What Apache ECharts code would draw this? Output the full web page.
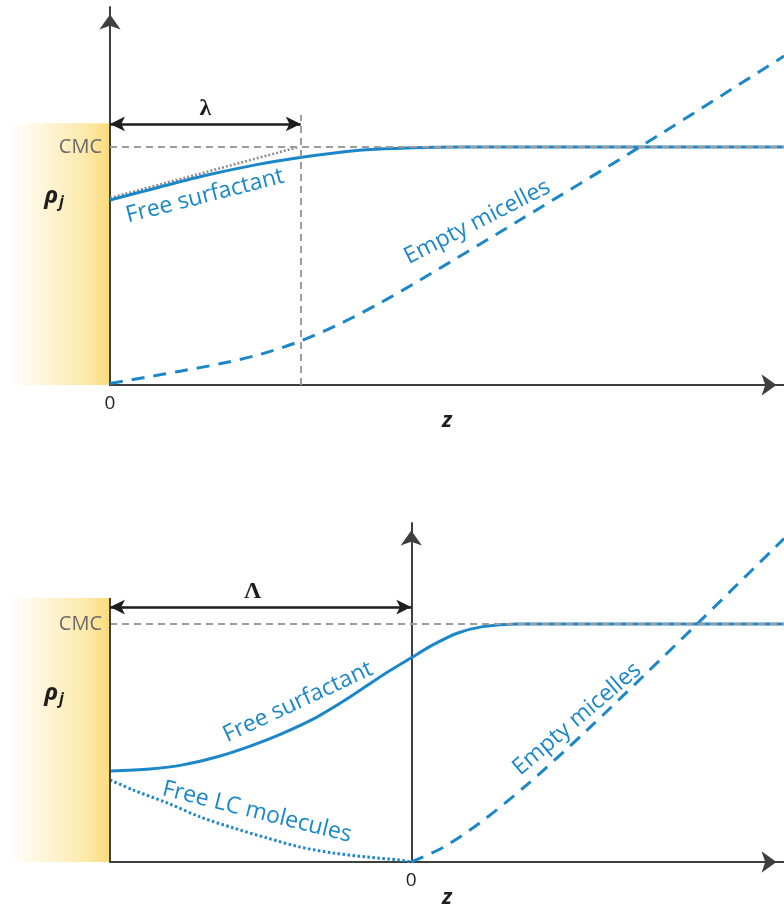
<!DOCTYPE html>
<html>
<head>
<meta charset="utf-8">
<script src="https://cdn.jsdelivr.net/npm/echarts@6/dist/echarts.min.js"></script>
<style>
html, body { margin: 0; padding: 0; background: #fff; }
#main { width: 784px; height: 904px; }
</style>
</head>
<body>
<div id="main"></div>
<script>
// ---- Upper panel: bare wall, decay length λ ----
const cmc = 1.0;
const lambda = 2.83;
const topFreeSurfZ = [0, 0.70, 1.44, 2.18, 2.82, 3.30, 3.80, 4.40, 5.20, 6.0, 7.0, 8.0, 9.0, 10.0];
const topFreeSurf  = [0.777, 0.829, 0.882, 0.926, 0.956, 0.974, 0.988, 0.996, 1.0, 1.0, 1.0, 1.0, 1.0, 1.0];
const topTangentZ  = [0, 2.8];
const topTangent   = [0.786, 1.0];
const topMicellesZ = [0, 0.52, 1.04, 1.63, 2.23, 2.82, 3.41, 4.01, 4.60, 6.08, 7.86, 10.0];
const topMicelles  = [0.006, 0.032, 0.058, 0.089, 0.129, 0.184, 0.257, 0.345, 0.441, 0.693, 1.0, 1.382];

// ---- Lower panel: LC-coated wall, depletion length Λ ----
const bigLambda = 4.47;
const botFreeSurfZ = [-4.47, -3.88, -3.39, -2.89, -2.39, -1.90, -1.40, -0.91, -0.42, 0, 0.32, 0.68, 1.06, 1.57, 2.2, 3.5, 5.53];
const botFreeSurf  = [0.382, 0.391, 0.408, 0.441, 0.487, 0.542, 0.609, 0.693, 0.786, 0.858, 0.912, 0.961, 0.989, 1.0, 1.0, 1.0, 1.0];
const botFreeLCZ   = [-4.47, -4.13, -3.62, -3.13, -2.64, -2.14, -1.65, -1.16, -0.66, -0.17, 0];
const botFreeLC    = [0.345, 0.303, 0.248, 0.189, 0.143, 0.101, 0.063, 0.038, 0.021, 0.008, 0];
const botMicellesZ = [0, 0.47, 1.02, 1.71, 2.60, 3.49, 4.28, 5.53];
const botMicelles  = [0, 0.061, 0.165, 0.323, 0.552, 0.794, 1.011, 1.359];

const xTickLabels = ['0'];

const BLUE = '#1b87c9';
const GREY = '#9c9c9c';
const AXIS = '#3f3f3f';
const INK = '#1e1e1e';
const FONT = '"Open Sans", "Noto Sans", sans-serif';

const pairs = (xs, ys) => xs.map((x, i) => [x, ys[i]]);

const chart = echarts.init(document.getElementById('main'), null, { renderer: 'canvas' });

const axisArrow = { symbol: ['none', 'arrow'], symbolSize: [16, 15], symbolOffset: [0, -7.5] };

function xAxisFor(gi, min, max) {
  return {
    type: 'value', gridIndex: gi, min: min, max: max,
    name: 'z', nameLocation: 'middle', nameGap: 25, nameMoveOverlap: false,
    nameTextStyle: { fontFamily: FONT, fontSize: 22, fontWeight: 'bold', fontStyle: 'italic', color: INK },
    axisLine: Object.assign({ show: true, onZero: false, lineStyle: { color: AXIS, width: 2 } }, axisArrow),
    axisTick: { show: false },
    splitLine: { show: false },
    axisLabel: { show: true, customValues: [0], margin: 9,
      formatter: v => (v === 0 ? xTickLabels[0] : ''),
      fontFamily: FONT, fontSize: 19, color: INK }
  };
}
function yAxisFor(gi, max) {
  return {
    type: 'value', gridIndex: gi, min: 0, max: max,
    axisLine: Object.assign({ show: true, onZero: true, lineStyle: { color: AXIS, width: 2 } }, axisArrow),
    axisTick: { show: false }, axisLabel: { show: false }, splitLine: { show: false }
  };
}

const dashedGrey = { color: GREY, width: 2, type: [7, 5] };
const arrowLine = { color: INK, width: 2.5, type: 'solid' };
const greekLabel = { fontFamily: '"Liberation Serif", serif', fontSize: 24, fontWeight: 'bold', color: INK };

const option = {
  animation: false,
  backgroundColor: '#fff',
  grid: [
    { left: 110, top: 7, width: 674, height: 378, containLabel: false, outerBoundsMode: 'none' },
    { left: 110, top: 523, width: 674, height: 339, containLabel: false, outerBoundsMode: 'none' }
  ],
  xAxis: [xAxisFor(0, 0, 10), xAxisFor(1, -bigLambda, 10 - bigLambda)],
  yAxis: [yAxisFor(0, 378 / 238), yAxisFor(1, 339 / 238)],
  series: [
    // upper panel guides
    {
      type: 'line', xAxisIndex: 0, yAxisIndex: 0, data: [], z: 1, silent: true,
      markLine: {
        silent: true, animation: false, symbol: 'none',
        data: [
          [{ coord: [0, cmc], lineStyle: dashedGrey,
             label: { show: true, position: 'start', formatter: 'CMC', distance: 8,
                      fontFamily: FONT, fontSize: 20, color: '#6a6a6a' } },
           { coord: [10, cmc] }],
          [{ coord: [lambda, 0], lineStyle: dashedGrey, label: { show: false } },
           { coord: [lambda, 1.134] }]
        ]
      }
    },
    {
      type: 'line', xAxisIndex: 0, yAxisIndex: 0, data: [], z: 4, silent: true,
      markLine: {
        silent: true, animation: false, symbol: ['arrow', 'arrow'], symbolSize: [11, 15],
        data: [
          [{ coord: [0, 1.097], lineStyle: arrowLine,
             label: Object.assign({ show: true, position: 'middle', formatter: 'λ', distance: 3 }, greekLabel) },
           { coord: [lambda, 1.097] }]
        ]
      }
    },
    {
      name: 'tangent', type: 'line', xAxisIndex: 0, yAxisIndex: 0, z: 2,
      data: pairs(topTangentZ, topTangent), showSymbol: false, silent: true,
      lineStyle: { color: '#8c8c8c', width: 2.5, type: [2, 2] }
    },
    {
      name: 'Free surfactant', type: 'line', xAxisIndex: 0, yAxisIndex: 0, z: 3,
      data: pairs(topFreeSurfZ, topFreeSurf), showSymbol: false, smooth: 0.3, silent: true,
      lineStyle: { color: BLUE, width: 3 }
    },
    {
      name: 'Empty micelles', type: 'line', xAxisIndex: 0, yAxisIndex: 0, z: 3,
      data: pairs(topMicellesZ, topMicelles), showSymbol: false, smooth: 0.3, silent: true,
      lineStyle: { color: BLUE, width: 3, type: [13, 9] }
    },
    // lower panel guides
    {
      type: 'line', xAxisIndex: 1, yAxisIndex: 1, data: [], z: 1, silent: true,
      markLine: {
        silent: true, animation: false, symbol: 'none',
        data: [
          [{ coord: [-bigLambda, cmc], lineStyle: dashedGrey,
             label: { show: true, position: 'start', formatter: 'CMC', distance: 8,
                      fontFamily: FONT, fontSize: 20, color: '#6a6a6a' } },
           { coord: [10 - bigLambda, cmc] }],
          [{ coord: [-bigLambda, 0], lineStyle: { color: AXIS, width: 2, type: 'solid' }, label: { show: false } },
           { coord: [-bigLambda, 1.109] }]
        ]
      }
    },
    {
      type: 'line', xAxisIndex: 1, yAxisIndex: 1, data: [], z: 4, silent: true,
      markLine: {
        silent: true, animation: false, symbol: ['arrow', 'arrow'], symbolSize: [11, 15],
        data: [
          [{ coord: [-bigLambda, 1.071], lineStyle: arrowLine,
             label: Object.assign({ show: true, position: 'middle', formatter: 'Λ', distance: 3, offset: [-8, 0] }, greekLabel) },
           { coord: [0, 1.071] }]
        ]
      }
    },
    {
      name: 'Free surfactant', type: 'line', xAxisIndex: 1, yAxisIndex: 1, z: 3,
      data: pairs(botFreeSurfZ, botFreeSurf), showSymbol: false, smooth: 0.3, silent: true,
      lineStyle: { color: BLUE, width: 3 }
    },
    {
      name: 'Free LC molecules', type: 'line', xAxisIndex: 1, yAxisIndex: 1, z: 3,
      data: pairs(botFreeLCZ, botFreeLC), showSymbol: false, smooth: 0.3, silent: true,
      lineStyle: { color: BLUE, width: 3, type: [2.5, 2.5] }
    },
    {
      name: 'Empty micelles', type: 'line', xAxisIndex: 1, yAxisIndex: 1, z: 3,
      data: pairs(botMicellesZ, botMicelles), showSymbol: false, smooth: 0.3, silent: true,
      lineStyle: { color: BLUE, width: 3, type: [13, 9] }
    }
  ]
};

chart.setOption(option);

// Annotations placed in data space and converted through each grid's axes.
const px = (gi, z, r) => chart.convertToPixel({ gridIndex: gi }, [z, r]);

function label(gi, z, r, text, deg, extra) {
  const p = px(gi, z, r);
  return {
    type: 'text', x: p[0], y: p[1], rotation: deg * Math.PI / 180, z: 10, silent: true,
    style: Object.assign({
      text: text, fill: BLUE, fontFamily: FONT, fontSize: 23,
      align: 'center', verticalAlign: 'middle', textAlign: 'center', textVerticalAlign: 'middle'
    }, extra || {})
  };
}

function wallBand(gi, zWall, top) {
  const a = px(gi, zWall, top);
  const b = px(gi, zWall, 0);
  const left = 8;
  return {
    type: 'rect', z: -1, silent: true,
    shape: { x: left, y: a[1], width: a[0] - left, height: b[1] - a[1] },
    style: {
      fill: new echarts.graphic.LinearGradient(0, 0, 1, 0, [
        { offset: 0, color: 'rgba(252,222,128,0)' },
        { offset: 0.35, color: 'rgba(252,222,128,0.3)' },
        { offset: 0.75, color: 'rgba(252,222,128,0.66)' },
        { offset: 1, color: 'rgba(251,219,122,1)' }
      ])
    }
  };
}

const rhoStyle = { fill: INK, fontFamily: '"Noto Sans", sans-serif', fontWeight: 'bold', fontStyle: 'italic', fontSize: 24 };
const subStyle = { fill: INK, fontFamily: '"Noto Sans", sans-serif', fontWeight: 'bold', fontStyle: 'italic', fontSize: 16 };

chart.setOption({
  graphic: { elements: [
    wallBand(0, 0, 1.10),
    wallBand(1, -bigLambda, 1.109),
    label(0, 1.41, 0.794, 'Free surfactant', 14.4),
    label(0, 5.45, 0.685, 'Empty micelles', 27),
    label(1, -1.68, 0.672, 'Free surfactant', 25),
    label(1, -2.29, 0.210, 'Free LC molecules', -14),
    label(1, 2.46, 0.601, 'Empty micelles', 40.5),
    label(0, -0.87, 0.794, 'ρ', 0, rhoStyle),
    label(0, -0.72, 0.765, 'j', 0, subStyle),
    label(1, -5.34, 0.71, 'ρ', 0, rhoStyle),
    label(1, -5.19, 0.681, 'j', 0, subStyle)
  ] }
});
</script>
</body>
</html>
